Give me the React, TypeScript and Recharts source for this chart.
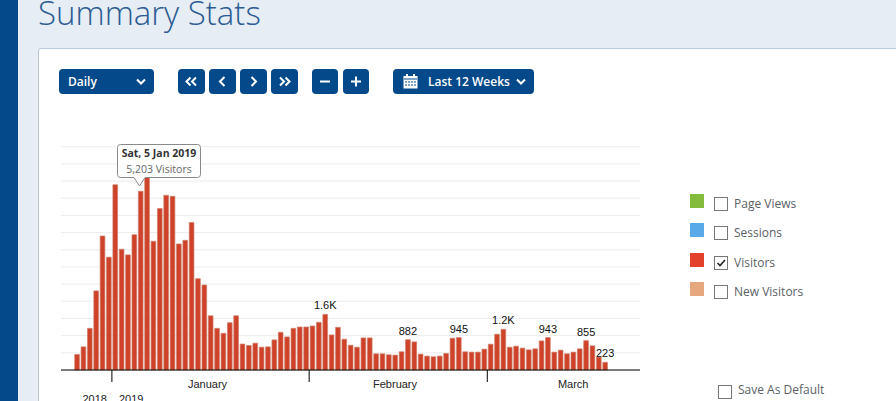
import React from "react";
import { BarChart, Bar, XAxis, YAxis, CartesianGrid, Tooltip, LabelList } from "recharts";

const days = [
  "Dec 24","Dec 25","Dec 26","Dec 27","Dec 28","Dec 29","Dec 30","Dec 31",
  "Jan 1","Jan 2","Jan 3","Jan 4","Jan 5","Jan 6","Jan 7","Jan 8","Jan 9","Jan 10","Jan 11","Jan 12","Jan 13","Jan 14","Jan 15","Jan 16","Jan 17","Jan 18","Jan 19","Jan 20","Jan 21","Jan 22","Jan 23","Jan 24","Jan 25","Jan 26","Jan 27","Jan 28","Jan 29","Jan 30","Jan 31",
  "Feb 1","Feb 2","Feb 3","Feb 4","Feb 5","Feb 6","Feb 7","Feb 8","Feb 9","Feb 10","Feb 11","Feb 12","Feb 13","Feb 14","Feb 15","Feb 16","Feb 17","Feb 18","Feb 19","Feb 20","Feb 21","Feb 22","Feb 23","Feb 24","Feb 25","Feb 26","Feb 27","Feb 28",
  "Mar 1","Mar 2","Mar 3","Mar 4","Mar 5","Mar 6","Mar 7","Mar 8","Mar 9","Mar 10","Mar 11","Mar 12","Mar 13","Mar 14","Mar 15","Mar 16","Mar 17","Mar 18","Mar 19","Mar 20","Mar 21","Mar 22","Mar 23","Mar 24",
];
const visitors: (number | null)[] = [
  null,null,
  453,674,1213,2302,3900,3284,5393,3515,3351,3939,5203,5900,3746,4700,5085,5056,3669,3775,4295,2658,2475,1579,1213,1069,1377,1579,
  756,713,780,664,674,876,1098,963,1213,1252,1252,1281,1387,1618,1021,1242,896,722,664,934,934,472,472,443,433,530,882,819,462,404,
  385,404,482,924,945,530,520,520,607,751,1040,1185,664,693,636,587,616,847,943,520,578,472,520,616,855,703,376,223,
  null,null,null,null,null,
];
const labelled: Record<string, string> = {
  "Feb 3": "1.6K", "Feb 16": "882", "Feb 24": "945", "Mar 3": "1.2K", "Mar 10": "943", "Mar 16": "855", "Mar 19": "223",
};
const yTicks = [0,500,1000,1500,2000,2500,3000,3500,4000,4500,5000,5500,6000,6500];
const monthLabels: Record<string, string> = { "Jan 16": "January", "Feb 14": "February", "Mar 14": "March" };
const boundaries = ["Jan 1", "Feb 1", "Mar 1"];
const metrics = [
  { name: "Page Views", color: "#84bb3c", checked: false },
  { name: "Sessions", color: "#59a9e8", checked: false },
  { name: "Visitors", color: "#e2412a", checked: true },
  { name: "New Visitors", color: "#e6a67e", checked: false },
];
const tooltipTitle = "Sat, 5 Jan 2019";
const tooltipValue = "5,203 Visitors";

const data = days.map((day, i) => ({ day, visitors: visitors[i], peak: labelled[day] ?? "" }));

const NAVY = "#04498a";
const OPEN = "'Open Sans', sans-serif";
const ARIAL = "'Liberation Sans', Arial, sans-serif";

function Btn({ left, width, children }: { left: number; width: number; children: React.ReactNode }) {
  return (
    <div style={{ position: "absolute", left, top: 69, width, height: 25, background: NAVY, borderRadius: 4, color: "#fff",
      fontFamily: OPEN, fontWeight: 600, fontSize: 12, lineHeight: "25px", textAlign: "center" }}>{children}</div>
  );
}

function Chevron({ x, y }: { x: number; y: number }) {
  return (
    <svg style={{ position: "absolute", left: x, top: y }} width="10" height="8">
      <path d="M1 1.5 L5 5.5 L9 1.5" fill="none" stroke="#fff" strokeWidth="2" />
    </svg>
  );
}

function Glyph({ d }: { d: string }) {
  return (
    <svg width="27" height="25" style={{ display: "block" }}>
      <path d={d} fill="none" stroke="#fff" strokeWidth="2" />
    </svg>
  );
}

function Check({ left, top, checked }: { left: number; top: number; checked?: boolean }) {
  return (
    <div style={{ position: "absolute", left, top, width: 12, height: 12, border: "1px solid #777", background: "#fff" }}>
      {checked && (
        <svg width="12" height="12" style={{ display: "block" }}>
          <path d="M2.5 6 L5 8.5 L10 3" fill="none" stroke="#222" strokeWidth="1.6" />
        </svg>
      )}
    </div>
  );
}

function AxisTick(props: any) {
  const { x, payload } = props;
  const v = payload.value as string;
  const slot = 6.363;
  if (boundaries.includes(v)) {
    return (
      <g>
        <line x1={x - slot / 2} x2={x - slot / 2} y1={370} y2={382} stroke="#000" strokeWidth={1} />
        {v === "Jan 1" && (
          <g fontFamily={ARIAL} fontSize={11} fill="#222">
            <text x={x - slot / 2 - 5} y={403} textAnchor="end">2018</text>
            <text x={x - slot / 2 + 7} y={403} textAnchor="start">2019</text>
          </g>
        )}
      </g>
    );
  }
  if (monthLabels[v]) {
    const dx = v === "Jan 16" ? -3 : 0;
    return <text x={x + dx} y={388} textAnchor="middle" fontFamily={ARIAL} fontSize={11} fill="#222">{monthLabels[v]}</text>;
  }
  return null;
}

function TipBox() {
  return (
    <svg width="86" height="46" style={{ display: "block", overflow: "visible" }}>
      <path d="M3.5 0.5 H80.5 Q83.5 0.5 83.5 3.5 V30.5 Q83.5 33.5 80.5 33.5 H28 L22.5 42 L17 33.5 H3.5 Q0.5 33.5 0.5 30.5 V3.5 Q0.5 0.5 3.5 0.5 Z"
        fill="#fff" stroke="#8a8a8a" />
      <text x="42" y="13" textAnchor="middle" fontFamily={OPEN} fontWeight={700} fontSize={10.5} fill="#333">{tooltipTitle}</text>
      <text x="42" y="29" textAnchor="middle" fontFamily={OPEN} fontSize={10.5} fill="#666">{tooltipValue}</text>
    </svg>
  );
}

function PeakLabel(props: any) {
  const { x, y, width, value } = props;
  if (!value) return null;
  return <text x={x + width / 2} y={y - 5} textAnchor="middle" fontFamily={ARIAL} fontSize={11} fill="#111">{value}</text>;
}

export default function App() {
  return (
    <div style={{ position: "absolute", left: 0, top: 0, width: 896, height: 401, overflow: "hidden", background: "#e6edf4" }}>
      <div style={{ position: "absolute", left: 0, top: 0, width: 18, height: 401, background: NAVY }} />
      <div style={{ position: "absolute", left: 38, top: -9, fontFamily: OPEN, fontWeight: 300, fontSize: 33, lineHeight: "44px", color: "#2a5b92", whiteSpace: "nowrap" }}>Summary Stats</div>
      <div style={{ position: "absolute", left: 38, top: 48, width: 870, height: 370, background: "#fff", border: "1px solid #b9c9dc", borderRadius: 3 }} />

      <Btn left={59} width={95}><span style={{ position: "absolute", left: 9 }}>Daily</span></Btn>
      <Chevron x={136} y={78} />
      <Btn left={178} width={27}><Glyph d="M12.5 8.5 L8.5 12.5 L12.5 16.5 M18 8.5 L14 12.5 L18 16.5" /></Btn>
      <Btn left={209} width={27}><Glyph d="M15.5 8 L11 12.5 L15.5 17" /></Btn>
      <Btn left={240} width={27}><Glyph d="M11.5 8 L16 12.5 L11.5 17" /></Btn>
      <Btn left={271} width={27}><Glyph d="M9 8.5 L13 12.5 L9 16.5 M14.5 8.5 L18.5 12.5 L14.5 16.5" /></Btn>
      <Btn left={312} width={26}><Glyph d="M8 12.5 H18" /></Btn>
      <Btn left={343} width={26}><Glyph d="M8 12.5 H18 M13 7.5 V17.5" /></Btn>
      <Btn left={393} width={141}><span style={{ position: "absolute", left: 35, whiteSpace: "nowrap" }}>Last 12 Weeks</span></Btn>
      <svg style={{ position: "absolute", left: 403, top: 74 }} width="15" height="15">
        <rect x="0.5" y="2" width="14" height="12.5" fill="#fff" />
        <rect x="3" y="0" width="2" height="3" fill="#fff" />
        <rect x="10" y="0" width="2" height="3" fill="#fff" />
        <path d="M1 5 H14" stroke={NAVY} strokeWidth="1" />
        <path d="M2 8 H13 M2 11 H13" stroke={NAVY} strokeWidth="1" strokeDasharray="2 1" />
      </svg>
      <Chevron x={516} y={78} />

      <div style={{ position: "absolute", left: 0, top: 0 }}>
        <BarChart width={660} height={420} data={data} barCategoryGap={0} margin={{ top: 146.7, right: 20, bottom: 0, left: 61 }}>
          <CartesianGrid horizontal vertical={false} stroke="#ececec" syncWithTicks />
          <YAxis hide domain={[0, 6500]} ticks={yTicks} interval={0} />
          <XAxis dataKey="day" interval={0} axisLine={{ stroke: "#000", strokeWidth: 1 }} tickLine={false} tick={<AxisTick />} height={50} />
          <Tooltip active defaultIndex={12} cursor={false} position={{ x: 117, y: 144 }} content={<TipBox />}
            wrapperStyle={{ outline: "none", zIndex: 5 }} allowEscapeViewBox={{ x: true, y: true }} isAnimationActive={false} />
          <Bar dataKey="visitors" fill="#cf4229" stroke="#cf7f6c" strokeWidth={0.7} barSize={4.7} isAnimationActive={false} activeBar={false}>
            <LabelList dataKey="peak" content={<PeakLabel />} />
          </Bar>
        </BarChart>
      </div>

      {metrics.map((m, i) => {
        const tops = [194, 223, 253, 282];
        return (
          <React.Fragment key={m.name}>
            <div style={{ position: "absolute", left: 690, top: tops[i], width: 14, height: 14, background: m.color }} />
            <Check left={714} top={tops[i] + 3} checked={m.checked} />
            <div style={{ position: "absolute", left: 734, top: tops[i] + 1, fontFamily: OPEN, fontSize: 12, lineHeight: "18px", color: "#5a5f66", whiteSpace: "nowrap" }}>{m.name}</div>
          </React.Fragment>
        );
      })}
      <Check left={718} top={385} />
      <div style={{ position: "absolute", left: 738, top: 381, fontFamily: OPEN, fontSize: 12, lineHeight: "18px", color: "#5a5f66", whiteSpace: "nowrap" }}>Save As Default</div>
    </div>
  );
}
